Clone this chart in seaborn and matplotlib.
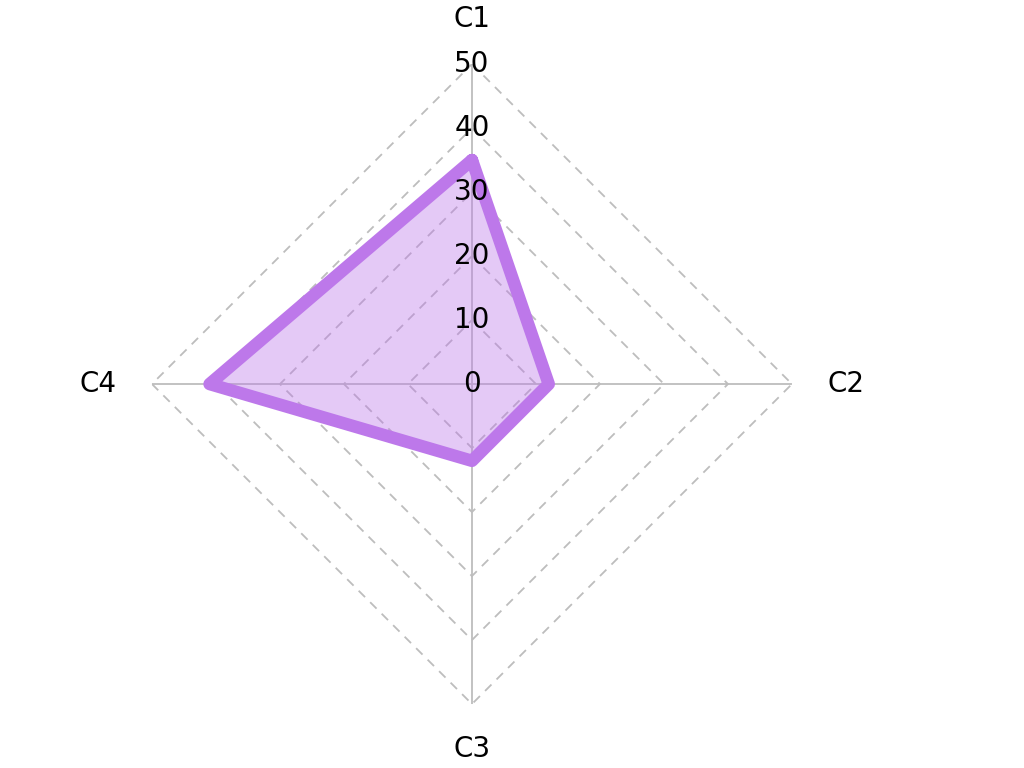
import numpy as np
import matplotlib
matplotlib.use("Agg")
import matplotlib.pyplot as plt
import seaborn as sns

# Radar chart data
categories = ["C1", "C2", "C3", "C4"]
values = [35, 12, 12, 41]
r_ticks = [0, 10, 20, 30, 40, 50]

LINE_COLOR = "#BD78EA"
GRID_COLOR = "#BDBDBD"

sns.set_theme(style="white")
plt.rcParams['font.family'] = ['DejaVu Sans']

n = len(categories)
angles = np.linspace(0, 2 * np.pi, n, endpoint=False)
closed_angles = np.append(angles, angles[0])
closed_values = np.append(values, values[0])

fig = plt.figure(figsize=(10.24, 7.68), dpi=100)
ax = fig.add_axes([0.1484, 0.0833, 0.625, 0.8333], projection="polar")
ax.set_theta_offset(np.pi / 2)
ax.set_theta_direction(-1)
ax.set_ylim(0, r_ticks[-1])
ax.grid(False)
ax.spines["polar"].set_visible(False)
ax.set_xticks([])
ax.set_yticks([])
ax.set_facecolor("white")

# polygon grid (dashed) and spokes (solid)
for r in r_ticks[1:]:
    ax.plot(closed_angles, [r] * (n + 1), color=GRID_COLOR, lw=1.3,
            ls=(0, (5, 4)), zorder=1)
for a in angles:
    ax.plot([a, a], [0, r_ticks[-1]], color=GRID_COLOR, lw=1.3, zorder=1)

# data polygon
ax.fill(closed_angles, closed_values, color=LINE_COLOR, alpha=0.4, lw=0, zorder=2)
ax.plot(closed_angles, closed_values, color=LINE_COLOR, lw=9,
        solid_joinstyle="round", solid_capstyle="round", zorder=3)

# radial tick labels along the C1 axis
for r in r_ticks:
    ax.text(0, r, str(r), ha="center", va="center", fontsize=20,
            color="black", zorder=5)

# category labels (a bit further out on the horizontal axes)
label_r = [57, 58.5, 57, 58.5]
for a, name, lr in zip(angles, categories, label_r):
    ax.text(a, lr, name, ha="center", va="center", fontsize=20,
            color="black", zorder=5)

fig.savefig("out.png", dpi=100, facecolor="white")
